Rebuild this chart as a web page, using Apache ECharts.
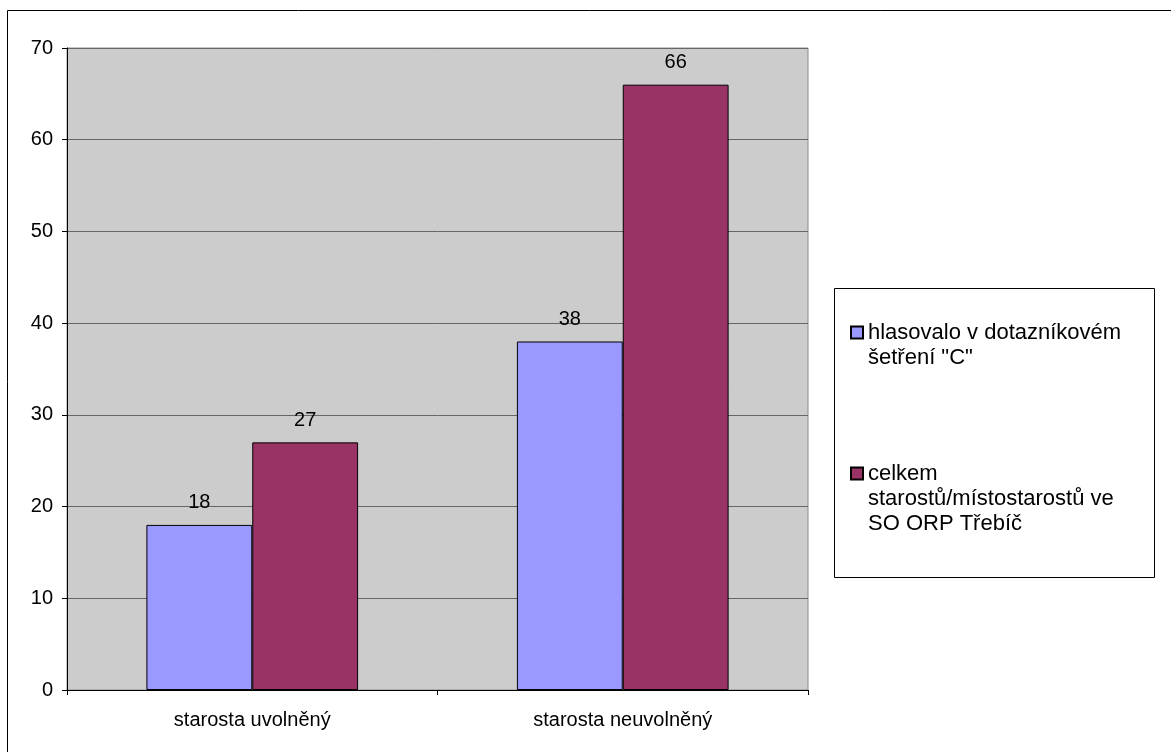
<!DOCTYPE html>
<html>
<head>
<meta charset="utf-8">
<script src="https://cdn.jsdelivr.net/npm/echarts@6/dist/echarts.min.js"></script>
<style>
html,body{margin:0;padding:0;background:#fff;}
#chart{width:1171px;height:752px;}
</style>
</head>
<body>
<div id="chart"></div>
<script>
const categories = ['starosta uvolněný', 'starosta neuvolněný'];
const seriesNames = ['hlasovalo v dotazníkovém\nšetření "C"', 'celkem\nstarostů/místostarostů ve\nSO ORP Třebíč'];
const hlasovalo = [18, 38];
const celkem = [27, 66];
const yMin = 0, yMax = 70, yInterval = 10;

const font = 'Liberation Sans, Arial, sans-serif';
const chart = echarts.init(document.getElementById('chart'), null, {renderer: 'canvas'});

const barLabel = {show: true, position: 'top', distance: 12, color: '#000', fontSize: 20, fontFamily: font};

// pad with leading blank lines so the marker lines up with the first text line
function topAligned(name) {
  const extra = name.split('\n').length - 1;
  return '\n'.repeat(extra) + name;
}

chart.setOption({
  animation: false,
  backgroundColor: '#fff',
  textStyle: {fontFamily: font},
  grid: {left: 67, right: 363, top: 48, bottom: 62, show: true, backgroundColor: '#CCCCCC', borderColor: '#8c8c8c', borderWidth: 1},
  xAxis: {
    type: 'category', data: categories,
    axisLine: {lineStyle: {color: '#000', width: 1}},
    axisTick: {show: true, length: 5, interval: 0, alignWithLabel: false, lineStyle: {color: '#000'}},
    axisLabel: {color: '#000', fontSize: 20, fontFamily: font, margin: 20, interval: 0},
    splitLine: {show: false}
  },
  yAxis: {
    type: 'value', min: yMin, max: yMax, interval: yInterval,
    axisLine: {show: true, lineStyle: {color: '#000', width: 1}},
    axisTick: {show: true, length: 5, lineStyle: {color: '#000'}},
    axisLabel: {color: '#000', fontSize: 20, fontFamily: font, margin: 14},
    splitLine: {show: true, lineStyle: {color: '#666666', width: 1}}
  },
  legend: [
    {
      orient: 'vertical', left: 850, top: 295, padding: 0,
      itemWidth: 12, itemHeight: 12, itemGap: 0, icon: 'rect',
      formatter: topAligned,
      textStyle: {fontSize: 22, lineHeight: 25, color: '#000', fontFamily: font},
      data: [seriesNames[0]]
    },
    {
      orient: 'vertical', left: 850, top: 411, padding: 0,
      itemWidth: 12, itemHeight: 12, itemGap: 0, icon: 'rect',
      formatter: topAligned,
      textStyle: {fontSize: 22, lineHeight: 25, color: '#000', fontFamily: font},
      data: [seriesNames[1]]
    }
  ],
  graphic: [
    {type: 'rect', silent: true, z: -10, shape: {x: 7.5, y: 10.5, width: 1300, height: 900}, style: {fill: 'none', stroke: '#000', lineWidth: 1}},
    {type: 'rect', silent: true, z: -10, shape: {x: 834.5, y: 288.5, width: 320, height: 289}, style: {fill: '#fff', stroke: '#000', lineWidth: 1}}
  ],
  series: [
    {
      name: seriesNames[0], type: 'bar', data: hlasovalo,
      barGap: '0%', barCategoryGap: '42.86%',
      itemStyle: {color: '#9999FF', borderColor: '#000', borderWidth: 1},
      label: barLabel
    },
    {
      name: seriesNames[1], type: 'bar', data: celkem,
      barGap: '0%', barCategoryGap: '42.86%',
      itemStyle: {color: '#993366', borderColor: '#000', borderWidth: 1},
      label: barLabel
    }
  ]
});
</script>
</body>
</html>
